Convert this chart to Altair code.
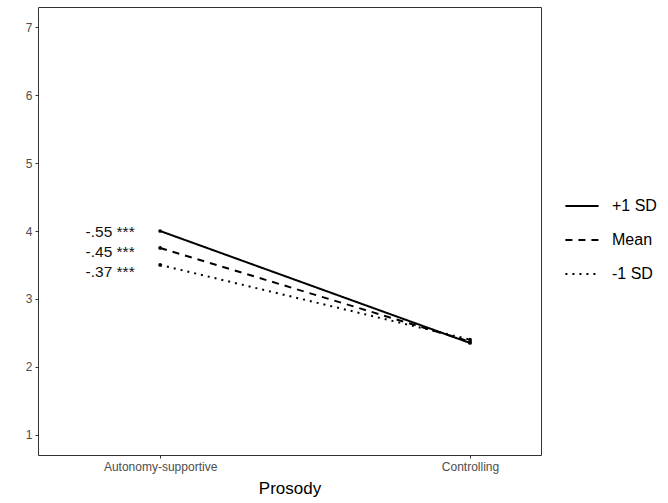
import altair as alt
import pandas as pd

groups = ["+1 SD", "Mean", "-1 SD"]
prosody = ["Autonomy-supportive", "Controlling"]
x_pos = [1, 2]
y_plus = [4.0, 2.35]
y_mean = [3.75, 2.37]
y_minus = [3.5, 2.40]

ann_labels = ["-.55 ***", "-.45 ***", "-.37 ***"]
ann_y = [3.98, 3.69, 3.40]
ann_x = [0.918, 0.918, 0.918]

rows = []
for g, ys in zip(groups, [y_plus, y_mean, y_minus]):
    for p, xv, yv in zip(prosody, x_pos, ys):
        rows.append({"group": g, "prosody": p, "x": xv, "y": yv})
df = pd.DataFrame(rows)
ann = pd.DataFrame({"label": ann_labels, "x": ann_x, "y": ann_y})

FONT = "Liberation Sans"
xscale = alt.Scale(domain=[0.606, 2.229], nice=False, zero=False)
yscale = alt.Scale(domain=[0.7, 7.3], nice=False, zero=False)

xaxis = alt.Axis(values=[1, 2], labelExpr="datum.value == 1 ? 'Autonomy-supportive' : 'Controlling'",
                 title="Prosody", grid=False, domain=False, tickColor="#333333", tickSize=3,
                 labelColor="#4D4D4D", labelFontSize=12, labelFont=FONT, labelPadding=3,
                 titleFont=FONT, titleFontSize=17, titleFontWeight="normal", titleColor="#000000",
                 titlePadding=8)
yaxis = alt.Axis(values=[1, 2, 3, 4, 5, 6, 7], format="d", title=None, grid=False, domain=False,
                 tickColor="#333333", tickSize=3, labelColor="#4D4D4D", labelFontSize=12,
                 labelFont=FONT, labelPadding=3)

dash = alt.StrokeDash("group:N",
                      scale=alt.Scale(domain=groups, range=[[1, 0], [7, 6], [2, 5]]),
                      legend=alt.Legend(title=None, orient="none", legendX=526, legendY=181,
                                        symbolType="stroke", symbolSize=1100, symbolStrokeWidth=2,
                                        symbolStrokeColor="black", labelFont=FONT, labelFontSize=16,
                                        labelColor="#000000", rowPadding=8, labelOffset=12))

lines = alt.Chart(df).mark_line(color="black", strokeWidth=2).encode(
    x=alt.X("x:Q", scale=xscale, axis=xaxis),
    y=alt.Y("y:Q", scale=yscale, axis=yaxis),
    strokeDash=dash,
    detail="group:N",
)
points = alt.Chart(df).mark_circle(color="black", size=14, opacity=1).encode(
    x=alt.X("x:Q", scale=xscale),
    y=alt.Y("y:Q", scale=yscale),
)
texts = alt.Chart(ann).mark_text(align="right", baseline="middle", font=FONT, fontSize=15.5,
                                 color="#111111").encode(
    x=alt.X("x:Q", scale=xscale),
    y=alt.Y("y:Q", scale=yscale),
    text="label:N",
)

chart = (lines + points + texts).properties(
    width=503, height=448,
    autosize=alt.AutoSizeParams(type="none"),
    padding={"left": 38, "top": 7, "right": 127, "bottom": 48},
    background="white",
).configure_view(stroke="#333333", strokeWidth=1)

chart.save("out.html", embed_options={"renderer": "svg", "actions": False})
